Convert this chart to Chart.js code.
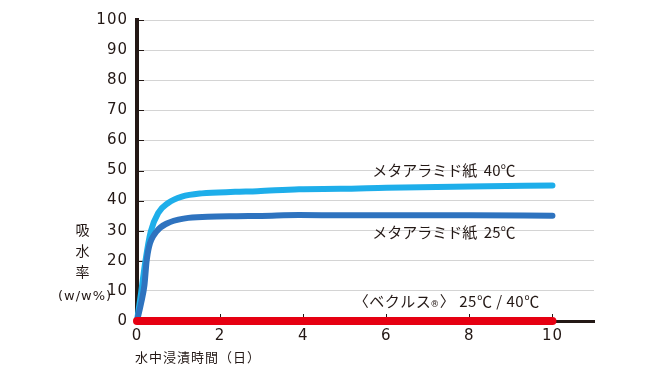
<!DOCTYPE html>
<html>
<head>
<meta charset="utf-8">
<script src="https://cdn.jsdelivr.net/npm/chart.js@4"></script>
<style>
  body { margin: 0; background: #fff; }
  #wrap { width: 656px; height: 383px; }
</style>
</head>
<body>
<div id="wrap"><canvas id="waterChart"></canvas></div>
<script>
// days in water / absorption (w/w%)
const days40 = [0, 0.1, 0.2, 0.33, 0.51, 0.75, 1.08, 1.56, 2.36, 2.9, 3.9, 4.9, 6, 8, 10];
const abs40 = [0, 9.5, 19.7, 29.7, 35.9, 39.2, 41.3, 42.4, 42.9, 43.1, 43.8, 43.9, 44.3, 44.7, 45];

const days25 = [0, 0.1, 0.18, 0.23, 0.29, 0.47, 0.72, 1.16, 1.7, 2.4, 3, 3.9, 5, 6, 8, 10];
const abs25 = [0, 6, 12, 19.7, 24.7, 29.7, 32.4, 34.1, 34.6, 34.8, 34.9, 35.2, 35.1, 35.1, 35.1, 35];

const daysBeclus = [0, 10];
const absBeclus = [0, 0];

const labelMeta40 = "メタアラミド紙  40℃";
const labelMeta25 = "メタアラミド紙  25℃";
const xTitle = "水中浸漬時間（日）";
const yTitle = ["吸", "水", "率", "(w/w%)"];

const ink = "#231815";

function toPoints(xs, ys) {
  return xs.map((x, i) => ({ x: x, y: ys[i] }));
}

const textPlugin = {
  id: "texts",
  beforeDraw(chart) {
    chart.ctx.letterSpacing = "1px";
  },
  afterDatasetsDraw(chart) {
    const ctx = chart.ctx;
    const xs = chart.scales.x;
    const ys = chart.scales.y;
    const area = chart.chartArea;
    ctx.save();

    ctx.fillStyle = ink;
    ctx.textBaseline = "middle";
    ctx.textAlign = "left";
    ctx.letterSpacing = "0px";
    ctx.font = "15px 'Noto Sans CJK JP'";
    ctx.fillText(labelMeta40, xs.getPixelForValue(5.66), ys.getPixelForValue(50.2));
    ctx.fillText(labelMeta25, xs.getPixelForValue(5.66), ys.getPixelForValue(29.6));

    // <ベクルス®> 25℃ / 40℃
    ctx.letterSpacing = "0.5px";
    let px = xs.getPixelForValue(5.22);
    const py = ys.getPixelForValue(6.6);
    ctx.fillText("〈ベクルス", px, py);
    px += ctx.measureText("〈ベクルス").width - 1;
    ctx.font = "9px 'DejaVu Sans'";
    ctx.fillText("®", px, py + 4);
    px += ctx.measureText("®").width;
    ctx.font = "15px 'Noto Sans CJK JP'";
    ctx.fillText("〉 25℃ / 40℃", px, py);

    // axis titles
    ctx.letterSpacing = "1px";
    ctx.font = "13px 'Noto Sans CJK JP'";
    ctx.fillText(xTitle, area.left - 2, 357);
    ctx.textAlign = "center";
    const titleY = [230, 251, 272, 297];
    yTitle.forEach((s, i) => {
      ctx.font = i < 3 ? "14px 'Noto Sans CJK JP'" : "13px 'DejaVu Sans'";
      ctx.fillText(s, i < 3 ? 83 : 85, titleY[i]);
    });
    ctx.restore();
  },
  beforeDatasetsDraw(chart) {
    const ctx = chart.ctx;
    const xs = chart.scales.x;
    const ys = chart.scales.y;
    const area = chart.chartArea;
    ctx.save();
    // small tick marks inside the axes
    ctx.strokeStyle = ink;
    ctx.lineWidth = 1;
    ys.ticks.forEach((t) => {
      const py = Math.round(ys.getPixelForValue(t.value)) + 0.5;
      ctx.beginPath();
      ctx.moveTo(area.left, py);
      ctx.lineTo(area.left + 7, py);
      ctx.stroke();
    });
    xs.ticks.forEach((t) => {
      const px = Math.round(xs.getPixelForValue(t.value)) + 0.5;
      ctx.beginPath();
      ctx.moveTo(px, area.bottom);
      ctx.lineTo(px, area.bottom - 7);
      ctx.stroke();
    });
    ctx.restore();
  },
};

new Chart(document.getElementById("waterChart"), {
  type: "line",
  data: {
    datasets: [
      {
        label: labelMeta40,
        data: toPoints(days40, abs40),
        borderColor: "#1eaeea",
        borderWidth: 6,
        borderCapStyle: "round",
        cubicInterpolationMode: "monotone",
        pointRadius: 0,
        clip: false,
        order: 2,
      },
      {
        label: labelMeta25,
        data: toPoints(days25, abs25),
        borderColor: "#2e73bf",
        borderWidth: 6,
        borderCapStyle: "round",
        cubicInterpolationMode: "monotone",
        pointRadius: 0,
        clip: false,
        order: 1,
      },
      {
        label: "ベクルス",
        data: toPoints(daysBeclus, absBeclus),
        borderColor: "#e60012",
        borderWidth: 8,
        borderCapStyle: "round",
        pointRadius: 0,
        clip: false,
        order: 0,
      },
    ],
  },
  options: {
    responsive: true,
    maintainAspectRatio: false,
    animation: false,
    layout: { padding: { top: 20, right: 62, left: 0, bottom: 0 } },
    plugins: { legend: { display: false }, tooltip: { enabled: false } },
    scales: {
      x: {
        type: "linear",
        min: 0,
        max: 11,
        afterFit(scale) { scale.height = 62; },
        grid: { display: false, drawTicks: false },
        border: { display: true, color: ink, width: 3 },
        ticks: {
          stepSize: 2,
          includeBounds: false,
          padding: 6,
          color: ink,
          font: { family: "DejaVu Sans", size: 15 },
        },
      },
      y: {
        min: 0,
        max: 100,
        afterFit(scale) { scale.width = 137; },
        grid: { color: "#d4d4d4", lineWidth: 1, drawTicks: false },
        border: { display: true, color: ink, width: 4 },
        ticks: {
          stepSize: 10,
          padding: 9,
          color: ink,
          font: { family: "DejaVu Sans", size: 15 },
        },
      },
    },
  },
  plugins: [textPlugin],
});
</script>
</body>
</html>
